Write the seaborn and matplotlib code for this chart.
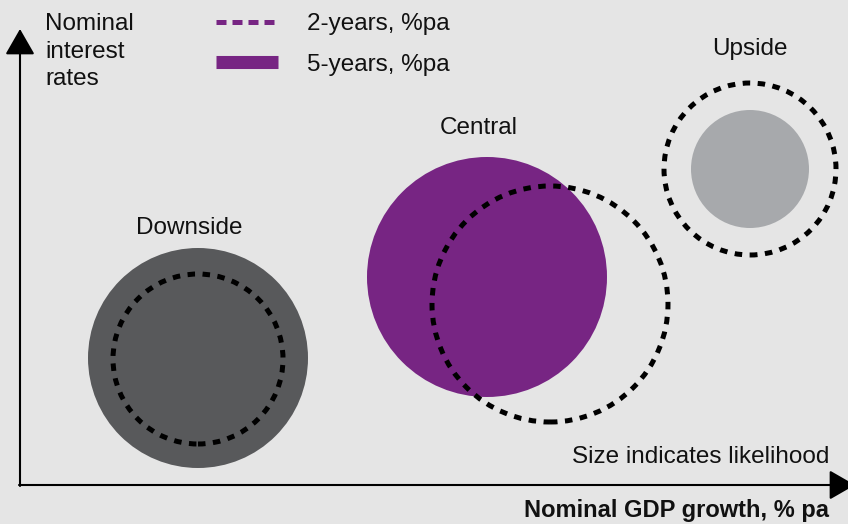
import matplotlib
matplotlib.use("Agg")
import matplotlib.pyplot as plt
from matplotlib.patches import Circle
from matplotlib.lines import Line2D
import seaborn as sns
import pandas as pd

# ---- data (conceptual chart units; origin bottom-left) ----
scenarios = ["Downside", "Central", "Upside"]
five_year_gdp = [198, 487, 750]     # x of 5-year circle centre
five_year_rate = [166, 247, 355]    # y of 5-year circle centre
five_year_likelihood = [110, 120, 59]   # radius
two_year_gdp = [198, 550, 750]
two_year_rate = [165, 220, 355]
two_year_likelihood = [85, 118, 86]
legend_labels = ["2-years, %pa", "5-years, %pa"]
y_axis_label = "Nominal\ninterest\nrates"
x_axis_label = "Nominal GDP growth, % pa"
note = "Size indicates likelihood"

# ---- layout / style ----
W, H, DPI = 848, 524, 100
BG = "#e5e5e5"
PURPLE = "#772583"
TXT = "#111111"
palette = {"Downside": "#58595b", "Central": PURPLE, "Upside": "#a7a9ac"}
label_offset = {"Downside": (-9, 130), "Central": (-8, 149), "Upside": (0, 120)}

sns.set_theme(style="white")
plt.rcParams["font.family"] = ["Liberation Sans", "DejaVu Sans"]
FS = 17.5

fig = plt.figure(figsize=(W / DPI, H / DPI), dpi=DPI, facecolor=BG)
ax = fig.add_axes([0, 0, 1, 1])

px_per_pt = DPI / 72.0
df = pd.DataFrame({
    "scenario": scenarios,
    "gdp": five_year_gdp,
    "rate": five_year_rate,
    "r": five_year_likelihood,
})
sizes = {s: (2 * r / px_per_pt) ** 2 for s, r in zip(df.scenario, df.r)}
sns.scatterplot(data=df, x="gdp", y="rate", hue="scenario", size="scenario",
                palette=palette, sizes=sizes, linewidth=0, alpha=1,
                legend=False, ax=ax, zorder=2)
ax.set_xlim(0, W)
ax.set_ylim(0, H)
ax.set_aspect("equal")
ax.axis("off")

for x, y, r in zip(two_year_gdp, two_year_rate, two_year_likelihood):
    ax.add_patch(Circle((x, y), r, fill=False, edgecolor="black", lw=3.6,
                        linestyle=(0, (1.5, 1.5)), zorder=3))

for s, x, y, r in zip(scenarios, five_year_gdp, five_year_rate, five_year_likelihood):
    dx, dy = label_offset[s]
    ax.text(x + dx, y + dy, s, ha="center", va="center", fontsize=FS, color=TXT)

# axes arrows
arrow = dict(arrowstyle="-|>,head_length=16,head_width=9.2", color="black",
             lw=1.5, shrinkA=0, shrinkB=0, mutation_scale=1)
ax.annotate("", xy=(20, 495), xytext=(20, 38), arrowprops=arrow, annotation_clip=False)
ax.annotate("", xy=(855, 39), xytext=(19, 39), arrowprops=arrow, annotation_clip=False)

# multi-line text: baseline alignment refers to the last line
ax.text(45, 439, y_axis_label, ha="left", va="baseline", fontsize=FS,
        linespacing=1.32, color=TXT)
ax.text(829, 67, note, ha="right", va="center", fontsize=FS, color=TXT)
ax.text(829, 7, x_axis_label, ha="right", va="baseline", fontsize=17,
        fontweight="bold", color=TXT)

handles = [
    Line2D([], [], color=PURPLE, lw=3.6, linestyle=(0, (2.0, 1.2)), dash_capstyle="butt"),
    Line2D([], [], color=PURPLE, lw=9.4, solid_capstyle="butt"),
]
leg = ax.legend(handles, legend_labels, loc="upper left", bbox_to_anchor=(216, 511),
                bbox_transform=ax.transData, frameon=False, fontsize=FS,
                handlelength=2.55, handletextpad=1.19, labelspacing=0.78,
                borderpad=0, borderaxespad=0)
for t in leg.get_texts():
    t.set_color(TXT)

fig.savefig("out.png", dpi=DPI, facecolor=BG)
